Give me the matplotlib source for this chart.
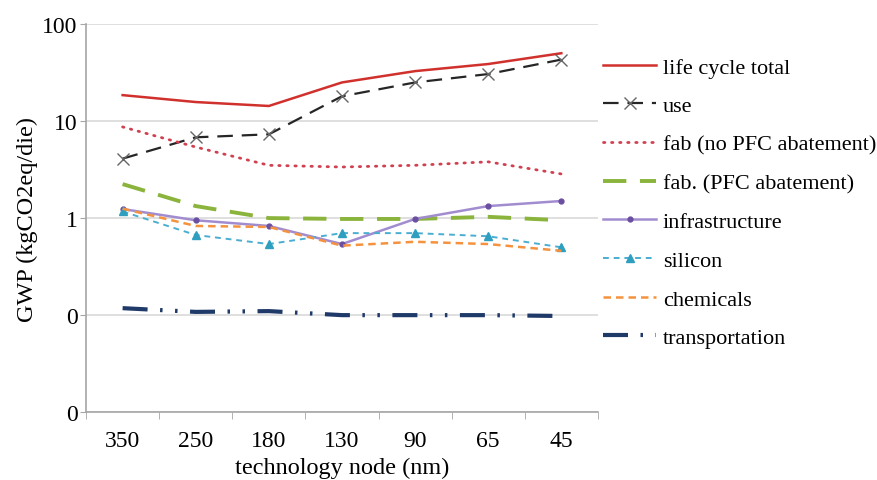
import matplotlib.pyplot as plt
from matplotlib.ticker import FixedLocator, FixedFormatter

plt.rcParams['font.family'] = ['Liberation Serif', 'DejaVu Serif']

# Technology nodes (categories)
nodes = ['350', '250', '180', '130', '90', '65', '45']

# GWP values (kgCO2eq/die)
life_cycle_total = [18.5, 15.7, 14.3, 25, 32.7, 38.7, 50]
use = [4.1, 6.8, 7.3, 18, 25, 30.5, 43]
fab_no_pfc = [8.7, 5.4, 3.5, 3.36, 3.5, 3.8, 2.85]
fab_pfc = [2.24, 1.33, 1.0, 0.98, 0.98, 1.03, 0.95]
infrastructure = [1.24, 0.95, 0.83, 0.54, 0.98, 1.33, 1.5]
silicon = [1.17, 0.67, 0.54, 0.70, 0.70, 0.65, 0.50]
chemicals = [1.25, 0.83, 0.81, 0.52, 0.57, 0.54, 0.46]
transportation = [0.118, 0.108, 0.11, 0.10, 0.10, 0.10, 0.098]

x = range(len(nodes))

fig = plt.figure(figsize=(8.78, 4.81), dpi=100)
ax = fig.add_axes([0.098, 0.141, 0.583, 0.807])

ax.plot(x, life_cycle_total, color='#d0312d', lw=1.8, label='life cycle total')
ax.plot(x, use, color='#262626', lw=1.6, dashes=(7, 4), marker='x', ms=8,
        mec='#666666', mew=1.0, label='use')
ax.plot(x, fab_no_pfc, color='#d04050', lw=2.0, linestyle=(0, (0.5, 2.4)),
        dash_capstyle='round', label='fab (no PFC abatement)')
ax.plot(x, fab_pfc, color='#8ab43c', lw=2.8, dashes=(6, 3.5),
        label='fab. (PFC abatement)')
ax.plot(x, infrastructure, color='#a28cd0', lw=1.8, marker='o', ms=3.5,
        mfc='#6a4fa0', mec='#6a4fa0', label='infrastructure')
ax.plot(x, silicon, color='#4aaed0', lw=1.4, dashes=(3, 2.5), marker='^', ms=6,
        mfc='#2f9fc0', mec='#2f9fc0', label='silicon')
ax.plot(x, chemicals, color='#f5923e', lw=1.8, dashes=(3, 2), label='chemicals')
ax.plot(x, transportation, color='#1f3a68', lw=3.0,
        linestyle=(0, (6, 3, 0.6, 3, 0.6, 3)), label='transportation')

ax.set_yscale('log')
ax.set_ylim(0.01, 100)
ax.set_xlim(-0.5, 6.5)

yt = [0.01, 0.1, 1, 10, 100]
ax.yaxis.set_major_locator(FixedLocator(yt))
ax.yaxis.set_major_formatter(FixedFormatter(['0', '0', '1', '10', '100']))
ax.yaxis.set_minor_locator(FixedLocator([]))
ax.grid(axis='y', color='#d9d9d9', lw=1.2)
ax.set_axisbelow(True)

ax.set_xticks(list(x))
ax.set_xticklabels(nodes)
ax.set_xticks([i + 0.5 for i in range(-1, 7)], minor=True)
ax.tick_params(axis='x', which='major', length=0, pad=13, labelsize=17)
ax.tick_params(axis='x', which='minor', length=5, color='#a6a6a6')
ax.tick_params(axis='y', length=4.5, color='#a6a6a6', labelsize=17, pad=1.5)

for side in ['top', 'right']:
    ax.spines[side].set_visible(False)
for side in ['left', 'bottom']:
    ax.spines[side].set_color('#a6a6a6')
    ax.spines[side].set_linewidth(1.2)

ax.set_xlabel('technology node (nm)', fontsize=17.5, labelpad=4)
ax.set_ylabel('GWP (kgCO2eq/die)', fontsize=17.5, labelpad=3)

fig.legend(loc='upper left', bbox_to_anchor=(603 / 878, 1 - 58 / 481),
           frameon=False, borderpad=0, borderaxespad=0,
           fontsize=16, handlelength=2.4, labelspacing=0.815, handletextpad=0.3)

fig.savefig('out.png', dpi=100)
